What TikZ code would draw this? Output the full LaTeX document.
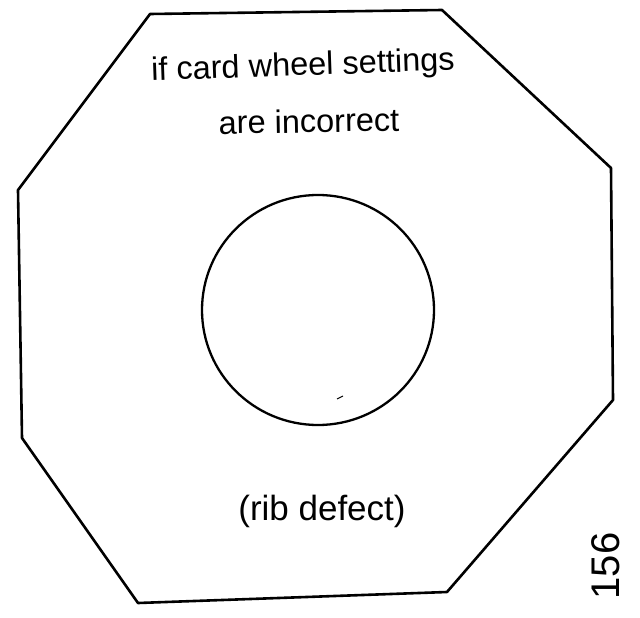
\documentclass[tikz,border=0pt]{standalone}
\usepackage{fontspec}
\setmainfont{Liberation Sans}
\tikzset{
  rim/.style={draw, line width=2.6pt, line join=round},
  hub/.style={draw, line width=2.3pt},
  lbl/.style={font=\fontsize{32.5}{36}\selectfont, inner sep=0pt},
  pgno/.style={font=\fontsize{40}{44}\selectfont, inner sep=0pt, rotate=90}
}
\begin{document}
\begin{tikzpicture}[x=1pt, y=-1pt]
\useasboundingbox (0,0) rectangle (640,618);
\draw[rim] (150,14) -- (442,10) -- (611,168) -- (613,400) -- (447,592) -- (138,603) -- (22,438) -- (18,190) -- cycle;
\draw[hub] (318,310) ellipse [x radius=116, y radius=115];
\draw[line width=1pt] (337,399) -- (343,396);
\node[lbl, rotate=2] (top) at (303,67) {if card wheel settings};
\node[lbl, rotate=1] (mid) at (309,121) {are incorrect};
\node[lbl, font=\fontsize{35}{40}\selectfont] (rib) at (322,511) {(rib defect)};
\node[pgno] (num) at (606,566) {156};
\end{tikzpicture}
\end{document}
